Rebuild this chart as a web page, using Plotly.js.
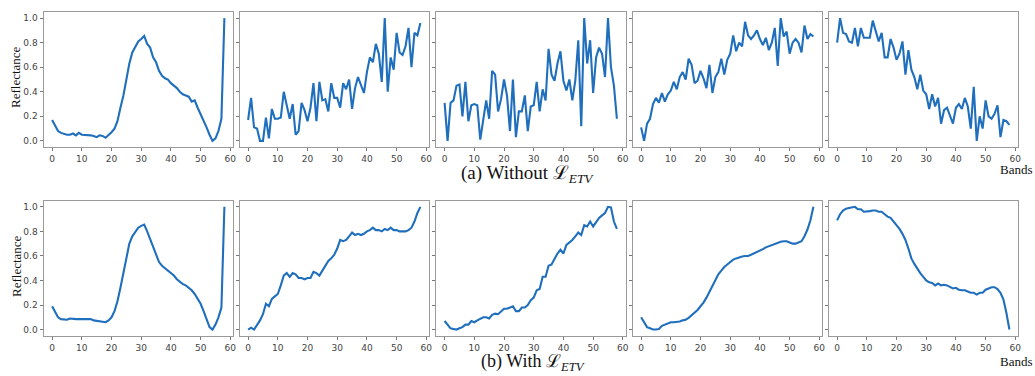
<!DOCTYPE html>
<html><head><meta charset="utf-8">
<script src="https://cdn.plot.ly/plotly-3.0.1.min.js"></script>
<style>html,body{margin:0;padding:0;background:#fff}#chart{width:1035px;height:376px}</style>
</head><body><div id="chart"></div>
<script>
// Band indices (x values)
const bands = [0,1,2,3,4,5,6,7,8,9,10,11,12,13,14,15,16,17,18,19,20,21,22,23,24,25,26,27,28,29,30,31,32,33,34,35,36,37,38,39,40,41,42,43,44,45,46,47,48,49,50,51,52,53,54,55,56,57,58];
const xTicks = [0,10,20,30,40,50,60];
const yTicks = [0,0.2,0.4,0.6,0.8,1.0];
const yTickLabels = ["0.0","0.2","0.4","0.6","0.8","1.0"];

// (a) Without L_ETV
const without1 = [0.17,0.12,0.08,0.065,0.055,0.05,0.05,0.06,0.045,0.065,0.05,0.05,0.045,0.045,0.04,0.03,0.045,0.04,0.025,0.045,0.07,0.1,0.16,0.27,0.37,0.5,0.63,0.72,0.77,0.81,0.83,0.855,0.79,0.76,0.68,0.64,0.57,0.53,0.51,0.5,0.47,0.45,0.43,0.4,0.38,0.37,0.36,0.32,0.33,0.27,0.22,0.17,0.11,0.05,0.0,0.02,0.08,0.18,1.0];
const without2 = [0.17,0.35,0.11,0.1,0,0,0.19,0.02,0.26,0.18,0.18,0.19,0.4,0.3,0.18,0.3,0.05,0.08,0.31,0.25,0.16,0.27,0.47,0.16,0.48,0.33,0.34,0.24,0.47,0.35,0.35,0.27,0.47,0.42,0.5,0.26,0.43,0.52,0.45,0.39,0.56,0.68,0.64,0.79,0.71,0.48,1.0,0.4,0.68,0.58,0.88,0.72,0.7,0.77,0.92,0.6,0.88,0.86,0.96];
const without3 = [0.31,0,0.31,0.33,0.45,0.46,0.2,0.48,0.16,0.29,0.3,0.29,0.01,0.18,0.33,0.18,0.57,0.54,0.24,0.34,0.5,0.37,0.08,0.5,0.03,0.24,0.24,0.37,0.08,0.28,0.29,0.48,0.24,0.42,0.33,0.75,0.54,0.49,0.63,0.73,0.49,0.41,0.5,0.33,0.49,0.82,0.12,1.0,0.63,0.82,0.39,0.68,0.76,0.71,0.52,1.0,0.6,0.45,0.18];
const without4 = [0.11,0,0.14,0.18,0.3,0.35,0.31,0.39,0.32,0.38,0.41,0.48,0.42,0.52,0.56,0.5,0.67,0.62,0.47,0.49,0.57,0.51,0.43,0.62,0.39,0.52,0.56,0.67,0.54,0.66,0.71,0.86,0.73,0.8,0.77,0.97,0.86,0.83,0.86,0.9,0.83,0.78,0.84,0.74,0.8,0.92,0.61,1.0,0.85,0.89,0.71,0.8,0.83,0.8,0.72,0.94,0.83,0.87,0.85];
const without5 = [0.8,1.0,0.88,0.87,0.81,0.8,0.92,0.77,0.92,0.84,0.84,0.84,0.98,0.9,0.81,0.88,0.68,0.68,0.83,0.76,0.66,0.71,0.81,0.54,0.74,0.58,0.52,0.42,0.54,0.41,0.38,0.26,0.38,0.28,0.35,0.14,0.25,0.27,0.2,0.14,0.27,0.3,0.26,0.35,0.28,0.1,0.44,0,0.2,0.1,0.33,0.2,0.18,0.22,0.29,0.03,0.17,0.16,0.13];

// (b) With L_ETV
const with1 = [0.19,0.14,0.1,0.085,0.08,0.08,0.09,0.085,0.085,0.085,0.085,0.09,0.09,0.085,0.075,0.07,0.07,0.065,0.06,0.075,0.1,0.15,0.23,0.34,0.46,0.59,0.7,0.76,0.8,0.83,0.845,0.855,0.8,0.74,0.67,0.61,0.55,0.52,0.5,0.48,0.46,0.44,0.41,0.39,0.37,0.36,0.34,0.32,0.29,0.25,0.21,0.15,0.08,0.02,0,0.04,0.1,0.18,1.0];
const with2 = [0,0.015,0,0.035,0.075,0.125,0.21,0.19,0.25,0.27,0.29,0.36,0.44,0.46,0.43,0.46,0.45,0.42,0.42,0.41,0.42,0.42,0.47,0.46,0.44,0.48,0.52,0.56,0.58,0.61,0.66,0.73,0.72,0.73,0.76,0.79,0.77,0.78,0.77,0.78,0.8,0.81,0.83,0.81,0.81,0.8,0.82,0.81,0.83,0.81,0.81,0.8,0.8,0.8,0.81,0.83,0.88,0.95,1.0];
const with3 = [0.07,0.035,0.01,0.005,0,0.01,0.02,0.04,0.04,0.07,0.06,0.075,0.085,0.1,0.1,0.09,0.12,0.13,0.125,0.15,0.17,0.17,0.18,0.19,0.15,0.15,0.18,0.18,0.2,0.24,0.26,0.32,0.33,0.43,0.43,0.52,0.53,0.58,0.62,0.65,0.62,0.69,0.71,0.73,0.76,0.79,0.77,0.85,0.84,0.88,0.84,0.88,0.91,0.93,0.95,1.0,0.995,0.88,0.82];
const with4 = [0.1,0.055,0.02,0.01,0,0,0.005,0.03,0.04,0.05,0.06,0.06,0.06,0.065,0.075,0.08,0.095,0.115,0.135,0.16,0.19,0.22,0.26,0.31,0.36,0.41,0.45,0.48,0.51,0.53,0.55,0.57,0.58,0.59,0.595,0.6,0.6,0.61,0.62,0.63,0.64,0.655,0.67,0.68,0.69,0.7,0.71,0.715,0.72,0.72,0.71,0.7,0.7,0.71,0.72,0.76,0.815,0.89,1.0];
const with5 = [0.89,0.94,0.97,0.985,0.99,0.995,1.0,0.98,0.98,0.96,0.96,0.965,0.97,0.97,0.96,0.96,0.94,0.92,0.91,0.88,0.85,0.82,0.78,0.73,0.66,0.58,0.535,0.495,0.46,0.43,0.4,0.385,0.38,0.36,0.375,0.36,0.365,0.36,0.345,0.335,0.34,0.325,0.32,0.32,0.31,0.3,0.3,0.285,0.3,0.3,0.325,0.335,0.345,0.345,0.33,0.3,0.245,0.135,0];

const series = [without1, without2, without3, without4, without5, with1, with2, with3, with4, with5];
const rowTitles = ["(a) Without ℒ<sub><i>ETV</i></sub>", "(b) With ℒ<sub><i>ETV</i></sub>"];
const yLabel = "Reflectance";
const xLabel = "Bands";

const W = 1035, H = 376;
const colLeft = [43.5, 239.5, 436, 632.5, 828.5];
const colWidth = 189.5;
const rowTop = [12, 200.7];
const rowBottom = [147, 335.7];

const traces = [];
const layout = {
  width: W, height: H,
  margin: {l:0, r:0, t:0, b:0},
  paper_bgcolor: '#fff', plot_bgcolor: '#fff',
  showlegend: false,
  annotations: [],
  font: {family: 'DejaVu Sans', size: 9, color: '#444'}
};

series.forEach((ys, i) => {
  const row = Math.floor(i / 5), col = i % 5;
  const n = i + 1;
  const xa = 'xaxis' + (n === 1 ? '' : n), ya = 'yaxis' + (n === 1 ? '' : n);
  traces.push({
    x: bands, y: ys, type: 'scatter', mode: 'lines',
    xaxis: 'x' + (n === 1 ? '' : n), yaxis: 'y' + (n === 1 ? '' : n),
    line: {color: '#1f6fbd', width: 2.1}, hoverinfo: 'skip'
  });
  const common = {
    showline: true, mirror: true, linecolor: '#9a9a9a', linewidth: 1,
    showgrid: false, zeroline: false, ticks: 'outside', ticklen: 3,
    tickcolor: '#777', tickwidth: 1, fixedrange: true,
    tickfont: {family: 'DejaVu Sans', size: 9, color: '#444'}
  };
  layout[xa] = Object.assign({}, common, {
    domain: [colLeft[col] / W, (colLeft[col] + colWidth) / W],
    range: [-2.9, 60.9], tickmode: 'array', tickvals: xTicks,
    anchor: 'y' + (n === 1 ? '' : n)
  });
  layout[ya] = Object.assign({}, common, {
    domain: [1 - rowBottom[row] / H, 1 - rowTop[row] / H],
    range: [-0.05, 1.05], tickmode: 'array', tickvals: yTicks,
    ticktext: yTickLabels, showticklabels: col === 0,
    anchor: 'x' + (n === 1 ? '' : n)
  });
});

[0, 1].forEach(row => {
  layout.annotations.push({
    xref: 'paper', yref: 'paper', x: 16 / W, y: 1 - (row === 0 ? 77 : 266) / H,
    text: yLabel, textangle: -90, showarrow: false, xanchor: 'center', yanchor: 'middle',
    font: {family: 'Liberation Serif', size: 13, color: '#111'}
  });
  layout.annotations.push({
    xref: 'paper', yref: 'paper', x: 1, y: 1 - (row === 0 ? 169 : 361) / H,
    text: xLabel, showarrow: false, xanchor: 'right', yanchor: 'middle',
    font: {family: 'Liberation Serif', size: 13, color: '#111'}
  });
  layout.annotations.push({
    xref: 'paper', yref: 'paper', x: (row === 0 ? 527 : 533) / W,
    y: row === 0 ? 1 - 174 / H : 0,
    text: rowTitles[row], showarrow: false, xanchor: 'center',
    yanchor: row === 0 ? 'middle' : 'bottom',
    font: {family: 'Liberation Serif', size: row === 0 ? 19 : 18, color: '#111'}
  });
});

Plotly.newPlot('chart', traces, layout, {displayModeBar: false, staticPlot: true});
</script></body></html>
